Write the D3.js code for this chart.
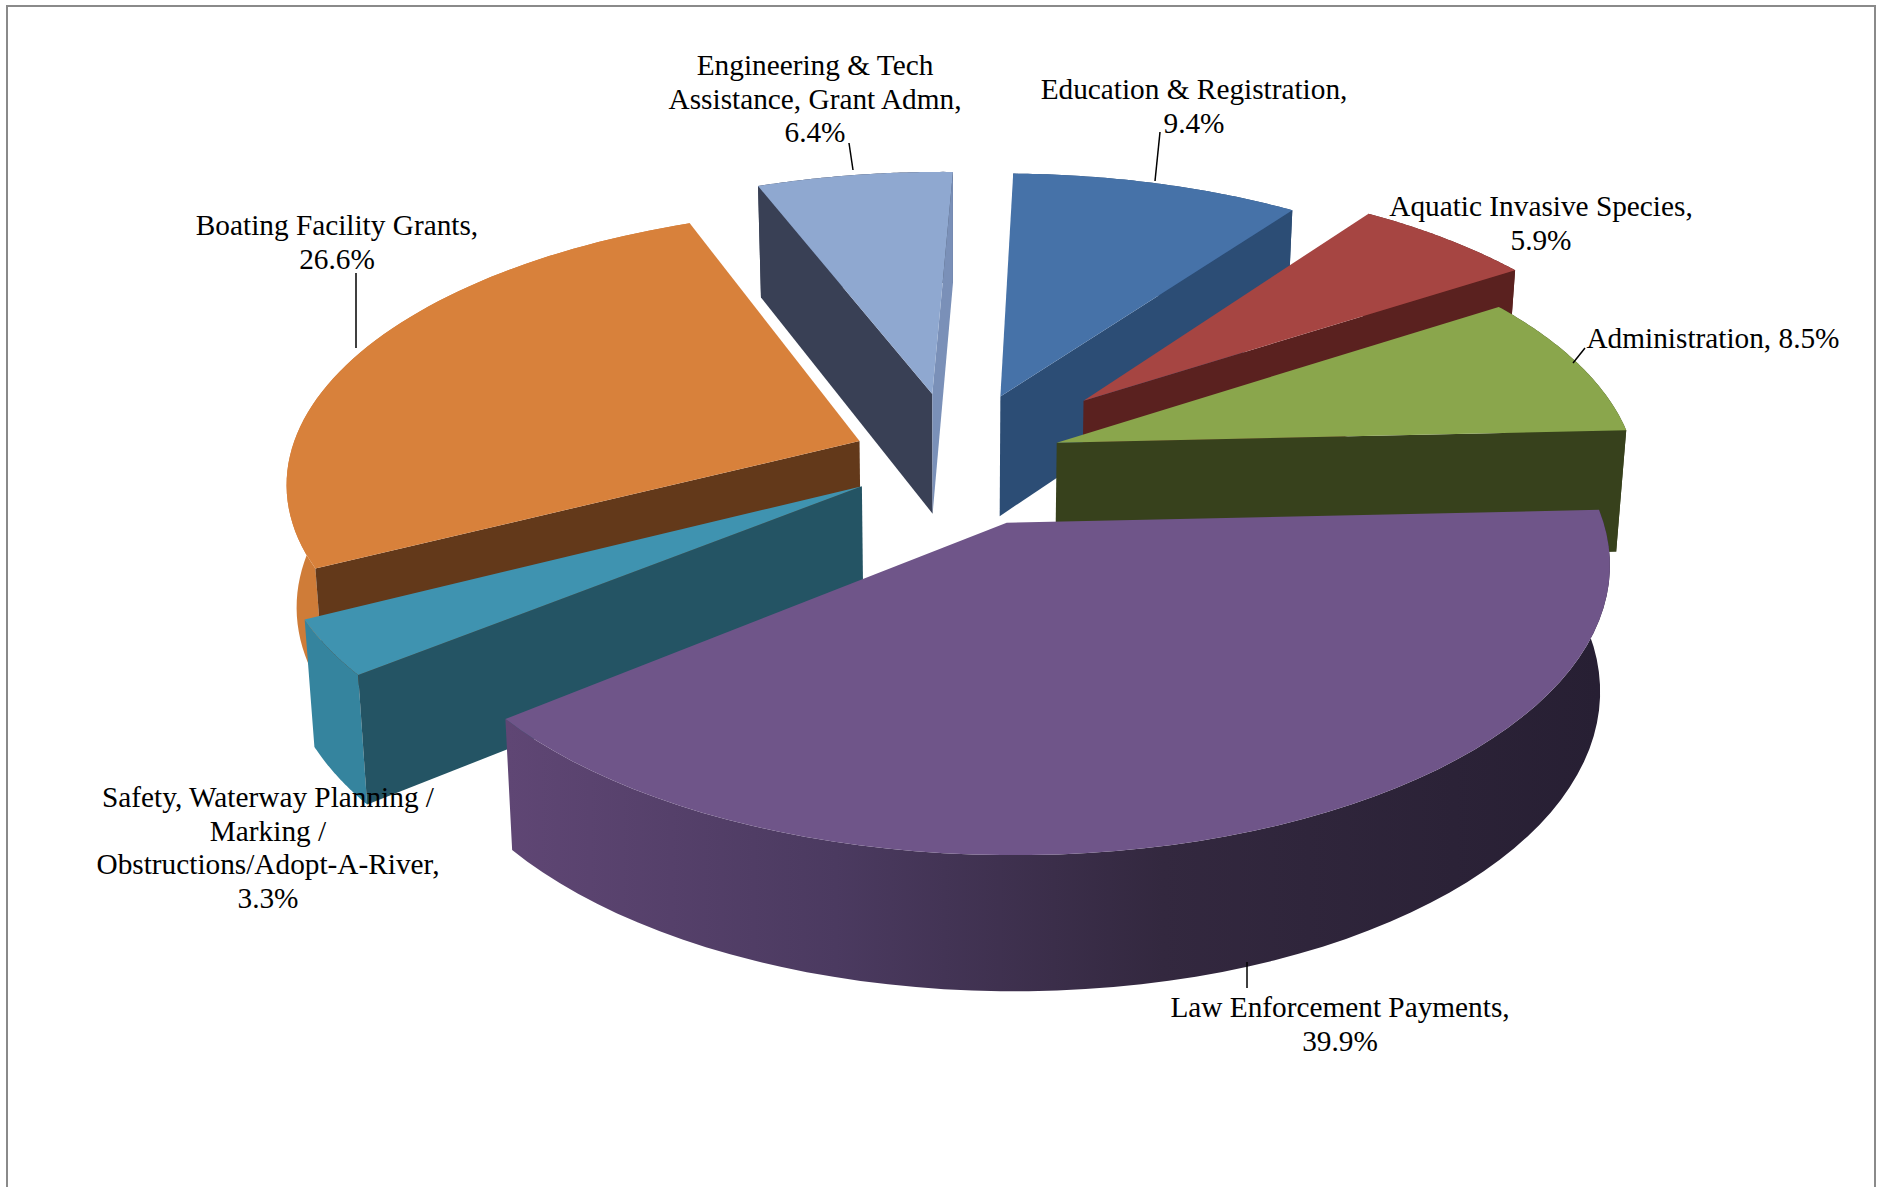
<!DOCTYPE html>
<html>
<head>
<meta charset="utf-8">
<title>Expenditures by program</title>
<script src="https://cdn.jsdelivr.net/npm/d3@7/dist/d3.min.js"></script>
<style>
  html, body { margin: 0; padding: 0; background: #fff; }
  svg { display: block; }
  text { font-family: "Liberation Serif", "Times New Roman", serif; fill: #000; }
</style>
</head>
<body>
<svg id="chart" width="1879" height="1187"></svg>
<script>
// Program names and their share of spending, clockwise from the top of the pie.
const categories = [
  "Education & Registration", "Aquatic Invasive Species", "Administration",
  "Law Enforcement Payments", "Safety, Waterway Planning", "Boating Facility Grants",
  "Engineering & Tech Assistance"
];
const shares = [9.4, 5.9, 8.5, 39.9, 3.3, 26.6, 6.4];

// Label wording per slice; the percentage is added after the last entry.
const labelLines = [
  ["Education & Registration,", ""],
  ["Aquatic Invasive Species,", ""],
  ["Administration, "],
  ["Law Enforcement Payments,", ""],
  ["Safety, Waterway Planning /", "Marking /", "Obstructions/Adopt-A-River,", ""],
  ["Boating Facility Grants,", ""],
  ["Engineering & Tech", "Assistance, Grant Admn,", ""]
];

// Slice colours: top face, cut faces and rim.
const topColors  = ["#4672a8", "#a64542", "#8aa64c", "#6f5589", "#3f93b0", "#d8813b", "#8fa8d0"];
const startWalls = ["#2c4d75", "#5a211f", "#37411c", "#37294a", "#245464", "#63391a", "#394055"];
const endWalls   = ["#2c4d75", "#5a211f", "#37411c", "#37294a", "#245464", "#63391a", "#7a90b8"];
const rimColors  = ["#2c4d75", "#5a211f", "#37411c", "url(#lawRim)", "#35849e", "#cf7c38", "#394055"];
const lawRimStops = [[0, "#5f4674"], [0.3, "#4b3a60"], [0.6, "#33283f"], [1, "#271f33"]];

// How far each slice is pulled out of the pie, as a fraction of the radius.
const explode = [0.25, 0.317, 0.187, 0.25, 0.19, 0.18, 0.25];

// Painter's order: far slices first so nearer ones overlap them.
const drawOrder = [6, 0, 5, 1, 2, 4, 3];

// Label anchors (centre x, first baseline) and leader lines.
const labelAnchors = [[1194, 99], [1541, 216], [1713, 348], [1340, 1017], [268, 807], [337, 235], [815, 75]];
const leaders = [
  [[1160, 132], [1155, 181]],
  null,
  [[1585, 348], [1573, 363]],
  [[1247, 962], [1247, 988]],
  null,
  [[356, 273], [356, 348]],
  [[849, 143], [853, 170]]
];

// Projection of the tilted pie, with the slight skew of the camera.
const view = { cx: 955, cy: 458, rx: 574, ry: 268, depth: 122, persp: 0.135, taper: 0.015, skewX: 19, skewY: -11 };
const startAngle = 4 * Math.PI / 180;
const fontSize = 29.3, lineHeight = 33.5;

function project(u, v, h) {
  const w = 1 / (1 - view.persp * v);
  const squeeze = 1 - view.taper * h;
  return [
    view.cx + (view.rx * u + view.skewX * v) * w * squeeze,
    view.cy + (view.ry * v + view.skewY * u) * w + view.depth * h * Math.pow(w, 0.6)
  ];
}

const svg = d3.select("#chart");
const defs = svg.append("defs");
const grad = defs.append("linearGradient")
  .attr("id", "lawRim").attr("gradientUnits", "userSpaceOnUse")
  .attr("x1", 508).attr("x2", 1600).attr("y1", 0).attr("y2", 0);
grad.selectAll("stop").data(lawRimStops).join("stop")
  .attr("offset", d => d[0]).attr("stop-color", d => d[1]);

// Outer border of the chart area, open at the bottom.
svg.append("path")
  .attr("d", d3.line()([[7, 1187], [7, 6], [1875, 6], [1875, 1187]]))
  .attr("fill", "none").attr("stroke", "#8a8a8a").attr("stroke-width", 2);

const arcs = d3.pie().sort(null).startAngle(startAngle).endAngle(startAngle + 2 * Math.PI)(shares);
const outline = d3.line().curve(d3.curveLinearClosed);

function sliceGeometry(i) {
  const a = arcs[i];
  const mid = (a.startAngle + a.endAngle) / 2;
  const ox = Math.sin(mid) * explode[i];
  const oy = -Math.cos(mid) * explode[i];
  const angles = d3.range(0, 61).map(k => a.startAngle + (a.endAngle - a.startAngle) * k / 60);
  const ring = h => angles.map(t => project(ox + Math.sin(t), oy - Math.cos(t), h));
  return { tipTop: project(ox, oy, 0), tipBottom: project(ox, oy, 1), ringTop: ring(0), ringBottom: ring(1) };
}

const slices = svg.append("g").attr("class", "slices");
drawOrder.forEach(i => {
  const g = sliceGeometry(i);
  const group = slices.append("g").attr("class", "slice").attr("data-name", categories[i]);

  // Rim band first, the top face covers whatever lies behind it.
  group.append("path")
    .attr("d", outline(g.ringTop.concat(g.ringBottom.slice().reverse())))
    .attr("fill", rimColors[i]);

  // Cut faces are drawn only when they turn towards the viewer.
  const first = [g.ringTop[0], g.tipTop, g.tipBottom, g.ringBottom[0]];
  const last = [g.ringTop[60], g.tipTop, g.tipBottom, g.ringBottom[60]];
  if (d3.polygonArea(first) < 0) group.append("path").attr("d", outline(first)).attr("fill", startWalls[i]);
  if (d3.polygonArea(last) > 0) group.append("path").attr("d", outline(last)).attr("fill", endWalls[i]);

  group.append("path")
    .attr("d", outline([g.tipTop].concat(g.ringTop)))
    .attr("fill", topColors[i]);
});

// Leader lines and data labels sit above the pie.
const leaderLayer = svg.append("g").attr("class", "leaders");
leaders.forEach(l => {
  if (l) leaderLayer.append("path").attr("d", d3.line()(l))
    .attr("fill", "none").attr("stroke", "#000").attr("stroke-width", 1.5);
});

const labelLayer = svg.append("g").attr("class", "labels");
labelLines.forEach((lines, i) => {
  const text = labelLayer.append("text")
    .attr("text-anchor", "middle").attr("font-size", fontSize);
  lines.forEach((line, k) => {
    const content = k === lines.length - 1 ? line + shares[i].toFixed(1) + "%" : line;
    text.append("tspan")
      .attr("x", labelAnchors[i][0])
      .attr("y", labelAnchors[i][1] + k * lineHeight)
      .text(content);
  });
});
</script>
</body>
</html>
